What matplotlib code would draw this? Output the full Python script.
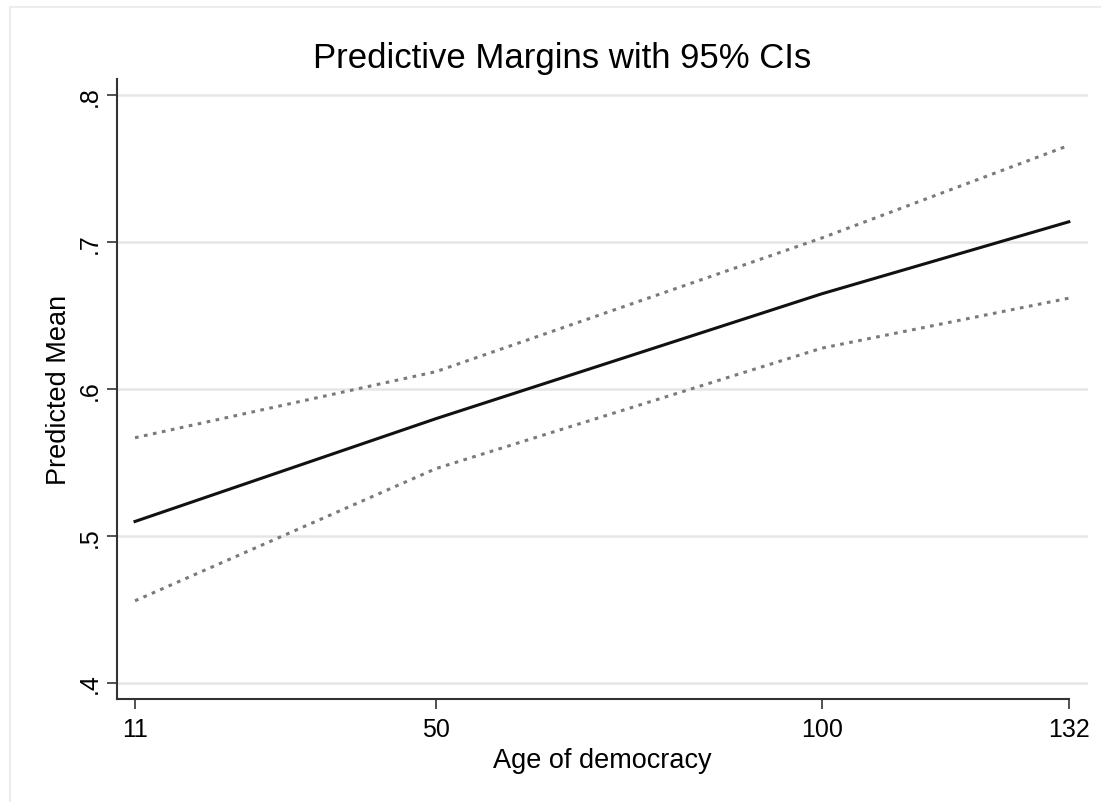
import numpy as np
import matplotlib
matplotlib.use("Agg")
import matplotlib.pyplot as plt
from matplotlib.patches import Rectangle

# predictive margins
age = [11, 50, 100, 132]
mean = [0.510, 0.580, 0.665, 0.714]
ci_upper = [0.567, 0.612, 0.703, 0.766]
ci_lower = [0.456, 0.546, 0.628, 0.662]

x_ticks = [11, 50, 100, 132]
y_ticks = [0.4, 0.5, 0.6, 0.7, 0.8]
y_labels = ['.4', '.5', '.6', '.7', '.8']

plt.rcParams['font.family'] = ['Liberation Sans', 'DejaVu Sans']

fig = plt.figure(figsize=(11.01, 8.03), dpi=100)
fig.patches.append(Rectangle((0.009, -0.01), 1.0, 1.0, transform=fig.transFigure,
                             fill=False, edgecolor='#ececec', linewidth=1.5))

ax = fig.add_axes([0.1063, 0.128, 0.882, 0.772])

for y in y_ticks:
    ax.axhline(y, color='#e6e6e6', linewidth=1.8, zorder=0)

ax.plot(age, ci_upper, color='#7a7a7a', linewidth=2.2, linestyle=(0, (1.2, 1.8)))
ax.plot(age, ci_lower, color='#7a7a7a', linewidth=2.2, linestyle=(0, (1.2, 1.8)))
ax.plot(age, mean, color='#111111', linewidth=2.2)

ax.set_xlim(8.67, 134.5)
ax.set_ylim(0.389, 0.811)

ax.set_xticks(x_ticks)
ax.set_yticks(y_ticks)
ax.set_yticklabels(y_labels, rotation=90, va='center')
ax.tick_params(axis='both', labelsize=18, length=7, width=1.2, color='#333333')
ax.tick_params(axis='x', pad=6)
ax.tick_params(axis='y', pad=4)

for side in ['top', 'right']:
    ax.spines[side].set_visible(False)
for side in ['left', 'bottom']:
    ax.spines[side].set_linewidth(1.5)
    ax.spines[side].set_color('#333333')
ax.spines['bottom'].set_bounds(8.67, 132)

ax.set_xlabel('Age of democracy', fontsize=19.5, labelpad=4)
ax.set_ylabel('Predicted Mean', fontsize=19.5, labelpad=4)
ax.set_title('Predictive Margins with 95% CIs', fontsize=25, pad=9, x=0.458)

plt.savefig('out.png', dpi=100)
